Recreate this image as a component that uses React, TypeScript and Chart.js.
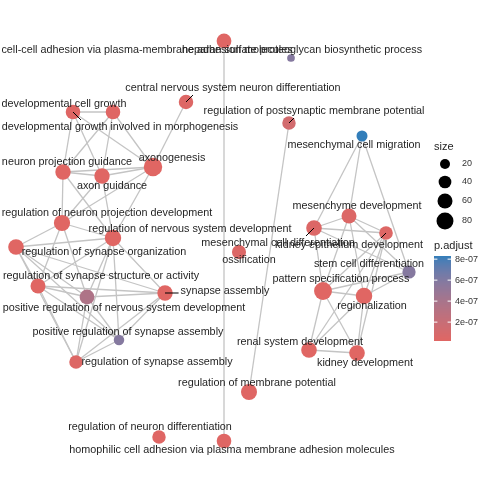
import React, { useEffect, useRef } from "react";
import { Chart, registerables } from "chart.js";
Chart.register(...registerables);

// ---------- data ----------
const terms = [
  "cell-cell adhesion via plasma-membrane adhesion molecules",
  "heparan sulfate proteoglycan biosynthetic process",
  "central nervous system neuron differentiation",
  "developmental cell growth",
  "developmental growth involved in morphogenesis",
  "regulation of postsynaptic membrane potential",
  "mesenchymal cell migration",
  "neuron projection guidance",
  "axonogenesis",
  "axon guidance",
  "regulation of neuron projection development",
  "regulation of nervous system development",
  "regulation of synapse organization",
  "regulation of synapse structure or activity",
  "positive regulation of nervous system development",
  "synapse assembly",
  "positive regulation of synapse assembly",
  "regulation of synapse assembly",
  "mesenchymal cell differentiation",
  "ossification",
  "mesenchyme development",
  "kidney epithelium development",
  "stem cell differentiation",
  "pattern specification process",
  "regionalization",
  "renal system development",
  "kidney development",
  "regulation of membrane potential",
  "regulation of neuron differentiation",
  "homophilic cell adhesion via plasma membrane adhesion molecules",
];

// layout coordinates of the nodes
const nodeX = [224, 291, 186, 113, 73, 289, 362, 63, 153, 102, 62, 113, 16, 38, 87, 165, 119, 76, 314, 239, 349, 386, 409, 323, 364, 309, 357, 249, 159, 224];
const nodeY = [41, 58, 102, 112, 112, 123, 136, 172, 167, 176, 223, 238, 247, 286, 297, 293, 340, 362, 228, 252, 216, 233, 272, 291, 296, 350, 353, 392, 437, 441];

// gene counts (size)
const geneCount = [58, 7, 55, 56, 56, 46, 27, 64, 97, 64, 72, 74, 66, 60, 58, 64, 23, 46, 66, 52, 60, 48, 44, 90, 75, 66, 66, 70, 46, 57];

// adjusted p-values
const pAdjust = [3e-8, 5.8e-7, 4e-8, 3e-8, 3e-8, 1.2e-7, 8.3e-7, 2e-8, 2e-8, 2e-8, 2e-8, 2e-8, 2e-8, 2e-8, 3.6e-7, 2e-8, 5.8e-7, 4e-8, 5e-8, 5e-8, 5e-8, 4e-8, 5.8e-7, 2e-8, 2e-8, 2e-8, 2e-8, 3e-8, 3e-8, 3e-8];

// repelled label positions (same layout coordinates)
const labelX = [147, 302, 233, 64, 120, 314, 354, 67, 172, 112, 107, 190, 104, 101, 124, 225, 128, 157, 278, 249, 357, 349, 369, 341, 372, 300, 365, 257, 150, 232];
const labelY = [50, 50, 88, 104, 127, 111, 145, 162, 158, 186, 213, 229, 252, 276, 308, 291, 332, 362, 243, 260, 206, 245, 264, 279, 306, 342, 363, 383, 427, 450];

// labels that have a leader segment to their node
const leaderTerms = [2, 4, 5, 15, 18, 21];

// similarity edges (pairs of term indices)
const edgeFrom = [0, 5, 2,
  4, 4, 4, 4, 3, 3, 3,
  7, 7, 9,
  7, 9, 8, 7, 9, 8,
  10, 10, 10, 10,
  11, 11, 11, 11, 11, 11,
  12, 12, 12, 12, 12, 13, 13, 13, 13, 14, 14, 14, 15, 15, 16,
  6, 6, 6,
  18, 18, 18, 18, 20, 20, 20, 20, 21, 21, 21, 21,
  23, 23, 23, 23, 24, 24, 24, 25];
const edgeTo = [29, 27, 8,
  3, 7, 9, 8, 7, 9, 8,
  9, 8, 8,
  10, 10, 10, 11, 11, 11,
  11, 12, 13, 14,
  12, 13, 14, 15, 16, 17,
  13, 14, 15, 16, 17, 14, 15, 16, 17, 15, 16, 17, 16, 17, 17,
  18, 20, 22,
  20, 21, 23, 22, 21, 23, 24, 22, 23, 24, 25, 26,
  24, 22, 25, 26, 22, 25, 26, 26];

// legend breaks
const sizeBreaks = [20, 40, 60, 80];
const pBreaks = [2e-7, 4e-7, 6e-7, 8e-7];
const pBreakLabels = ["2e-07", "4e-07", "6e-07", "8e-07"];

// ---------- helpers ----------
const LOW = "#e06663";
const HIGH = "#327eba";
const FONT = '"Liberation Sans", Arial, sans-serif';

function radiusFor(size: number) {
  return Math.sqrt(Math.max(25 + (size - 20) * 0.78, 4));
}

function hexToRgb(h: string) {
  const v = parseInt(h.slice(1), 16);
  return [(v >> 16) & 255, (v >> 8) & 255, v & 255];
}
function toLin(c: number) {
  c /= 255;
  return c <= 0.04045 ? c / 12.92 : Math.pow((c + 0.055) / 1.055, 2.4);
}
function fromLin(c: number) {
  const v = c <= 0.0031308 ? 12.92 * c : 1.055 * Math.pow(c, 1 / 2.4) - 0.055;
  return Math.max(0, Math.min(255, Math.round(v * 255)));
}
const XN = 0.95047, YN = 1.0, ZN = 1.08883;
function rgbToLab(rgb: number[]) {
  const R = toLin(rgb[0]), G = toLin(rgb[1]), B = toLin(rgb[2]);
  const X = 0.4124 * R + 0.3576 * G + 0.1805 * B;
  const Y = 0.2126 * R + 0.7152 * G + 0.0722 * B;
  const Z = 0.0193 * R + 0.1192 * G + 0.9505 * B;
  const f = (t: number) => (t > 0.008856 ? Math.cbrt(t) : 7.787 * t + 16 / 116);
  return [116 * f(Y / YN) - 16, 500 * (f(X / XN) - f(Y / YN)), 200 * (f(Y / YN) - f(Z / ZN))];
}
function labToRgb(lab: number[]) {
  const fy = (lab[0] + 16) / 116;
  const fx = fy + lab[1] / 500;
  const fz = fy - lab[2] / 200;
  const inv = (t: number) => (t * t * t > 0.008856 ? t * t * t : (t - 16 / 116) / 7.787);
  const X = inv(fx) * XN, Y = inv(fy) * YN, Z = inv(fz) * ZN;
  const R = 3.2406 * X - 1.5372 * Y - 0.4986 * Z;
  const G = -0.9689 * X + 1.8758 * Y + 0.0415 * Z;
  const B = 0.0557 * X - 0.204 * Y + 1.057 * Z;
  return [fromLin(R), fromLin(G), fromLin(B)];
}
const LAB_LOW = rgbToLab(hexToRgb(LOW));
const LAB_HIGH = rgbToLab(hexToRgb(HIGH));
const P_MIN = Math.min(...pAdjust);
const P_MAX = Math.max(...pAdjust);
function colorFor(p: number) {
  const t = Math.max(0, Math.min(1, (p - P_MIN) / (P_MAX - P_MIN)));
  const lab = LAB_LOW.map((v, i) => v + (LAB_HIGH[i] - v) * t);
  const rgb = labToRgb(lab);
  return `rgb(${rgb[0]},${rgb[1]},${rgb[2]})`;
}

// ---------- plugins ----------
const labelPlugin = {
  id: "netLabels",
  afterDatasetsDraw(chart: any) {
    const ctx = chart.ctx;
    const xs = chart.scales.x;
    const ys = chart.scales.y;
    ctx.save();
    ctx.font = `10.8px ${FONT}`;
    ctx.textAlign = "center";
    ctx.textBaseline = "middle";
    // leader segments
    ctx.strokeStyle = "#000";
    ctx.lineWidth = 1;
    leaderTerms.forEach((i) => {
      const px = xs.getPixelForValue(nodeX[i]);
      const py = ys.getPixelForValue(nodeY[i]);
      const lx = xs.getPixelForValue(labelX[i]);
      const ly = ys.getPixelForValue(labelY[i]);
      const w = ctx.measureText(terms[i]).width;
      const x0 = lx - w / 2 - 2, x1 = lx + w / 2 + 2;
      const y0 = ly - 7, y1 = ly + 7;
      let ex: number, ey: number;
      if (px >= x0 && px <= x1 && (py < y0 || py > y1)) {
        ey = py < y0 ? y0 : y1;
        const d = Math.abs(ey - py);
        ex = px + Math.sign(lx - px) * d;
      } else {
        ex = Math.max(x0, Math.min(x1, px));
        ey = Math.max(y0, Math.min(y1, py));
      }
      ctx.beginPath();
      ctx.moveTo(px, py);
      ctx.lineTo(ex, ey);
      ctx.stroke();
    });
    ctx.fillStyle = "#1f1f1f";
    terms.forEach((t, i) => {
      ctx.fillText(t, xs.getPixelForValue(labelX[i]), ys.getPixelForValue(labelY[i]));
    });
    ctx.restore();
  },
};

const legendPlugin = {
  id: "netLegend",
  afterDraw(chart: any) {
    const ctx = chart.ctx;
    ctx.save();
    // size legend
    ctx.fillStyle = "#1f1f1f";
    ctx.font = `11px ${FONT}`;
    ctx.textAlign = "left";
    ctx.textBaseline = "middle";
    ctx.fillText("size", 434, 147);
    const keyY = [164, 182, 201, 221];
    sizeBreaks.forEach((s, k) => {
      ctx.fillStyle = "#000";
      ctx.beginPath();
      ctx.arc(445, keyY[k], radiusFor(s), 0, Math.PI * 2);
      ctx.fill();
      ctx.fillStyle = "#333";
      ctx.font = `9px ${FONT}`;
      ctx.fillText(String(s), 462, keyY[k]);
    });
    // colour bar
    ctx.fillStyle = "#1f1f1f";
    ctx.font = `11px ${FONT}`;
    ctx.fillText("p.adjust", 434, 246);
    const bx = 434, bw = 17, top = 256, bottom = 341;
    const h = bottom - top;
    for (let r = 0; r < h; r++) {
      const p = P_MAX - ((r + 0.5) / h) * (P_MAX - P_MIN);
      ctx.fillStyle = colorFor(p);
      ctx.fillRect(bx, top + r, bw, 1);
    }
    ctx.strokeStyle = "#fff";
    ctx.lineWidth = 1;
    ctx.font = `9px ${FONT}`;
    pBreaks.forEach((p, k) => {
      const y = bottom - ((p - P_MIN) / (P_MAX - P_MIN)) * h;
      ctx.beginPath();
      ctx.moveTo(bx, y);
      ctx.lineTo(bx + 3.4, y);
      ctx.moveTo(bx + bw - 3.4, y);
      ctx.lineTo(bx + bw, y);
      ctx.stroke();
      ctx.fillStyle = "#333";
      ctx.fillText(pBreakLabels[k], 455, y);
    });
    ctx.restore();
  },
};

export default function App() {
  const ref = useRef<HTMLCanvasElement | null>(null);
  useEffect(() => {
    if (!ref.current) return;
    const edgeSets = edgeFrom.map((a, k) => {
      const b = edgeTo[k];
      return {
        type: "scatter" as const,
        data: [
          { x: nodeX[a], y: nodeY[a] },
          { x: nodeX[b], y: nodeY[b] },
        ],
        showLine: true,
        borderColor: "#c4c4c4",
        borderWidth: 1.3,
        pointRadius: 0,
        pointHoverRadius: 0,
        order: 1,
      };
    });
    const nodeSet = {
      type: "scatter" as const,
      data: terms.map((_, i) => ({ x: nodeX[i], y: nodeY[i] })),
      pointRadius: geneCount.map(radiusFor),
      pointHoverRadius: geneCount.map(radiusFor),
      pointBackgroundColor: pAdjust.map(colorFor),
      pointBorderWidth: 0,
      pointBorderColor: "rgba(0,0,0,0)",
      order: 0,
    };
    const chart = new Chart(ref.current, {
      type: "scatter",
      data: { datasets: [...edgeSets, nodeSet] as any },
      options: {
        animation: false,
        responsive: false,
        devicePixelRatio: 1,
        layout: { padding: 0, autoPadding: false },
        events: [],
        scales: {
          x: { type: "linear", min: 0, max: 480, display: false },
          y: { type: "linear", min: 0, max: 480, reverse: true, display: false },
        },
        plugins: { legend: { display: false }, tooltip: { enabled: false } },
      },
      plugins: [labelPlugin, legendPlugin],
    });
    return () => chart.destroy();
  }, []);
  return (
    <div style={{ position: "absolute", left: 0, top: 0, width: 480, height: 480, background: "#fff" }}>
      <canvas ref={ref} width={480} height={480} style={{ width: 480, height: 480 }} />
    </div>
  );
}
